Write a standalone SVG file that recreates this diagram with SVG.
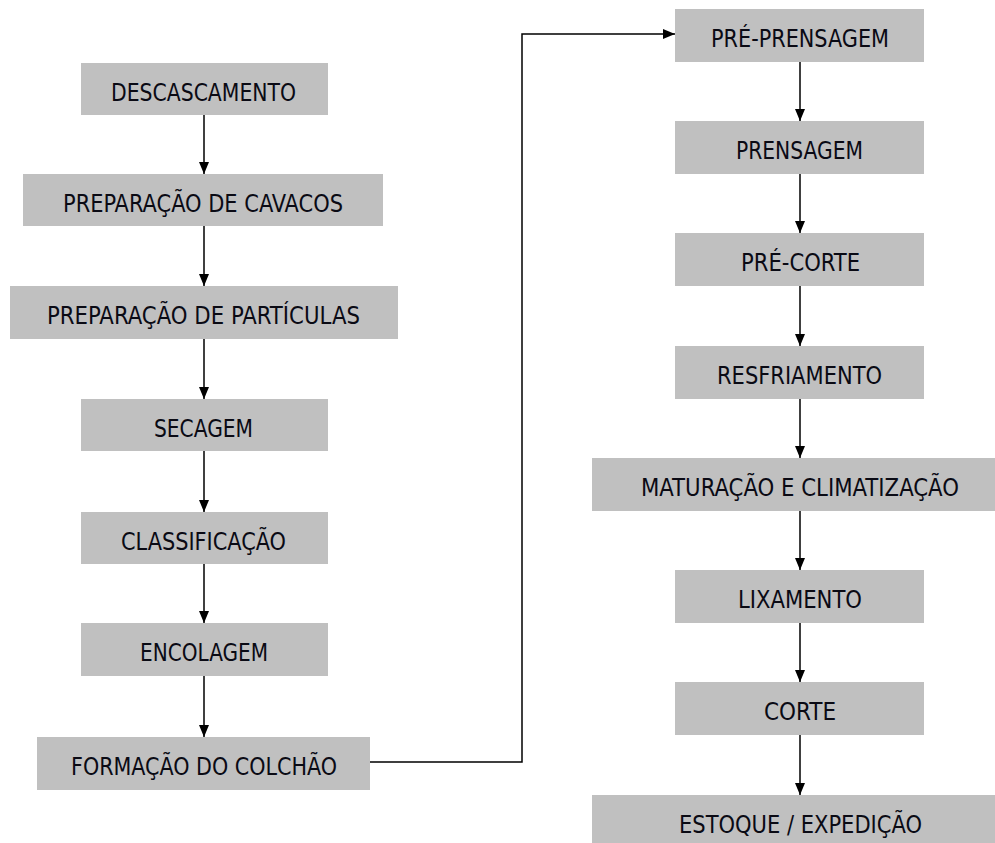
<svg xmlns="http://www.w3.org/2000/svg" width="995" height="843" viewBox="0 0 995 843">
<style>
.box{fill:#c0c0c0;}
.lbl{font-family:"DejaVu Sans Condensed","DejaVu Sans",sans-serif;font-size:24.5px;fill:#0a0a14;text-anchor:middle;}
.conn{fill:none;stroke:#000;stroke-width:1.5;}
</style>
<defs>
<marker id="arr" viewBox="0 0 12 10" refX="12" refY="5" markerWidth="12" markerHeight="10" markerUnits="userSpaceOnUse" orient="auto">
<path d="M0,0 L12,5 L0,10 z" fill="#000"/>
</marker>
</defs>
<rect width="995" height="843" fill="#fff"/>
<g id="n1"><rect class="box" x="81" y="63" width="247" height="52"/><text class="lbl" x="203.5" y="100.5" textLength="185" lengthAdjust="spacingAndGlyphs">DESCASCAMENTO</text></g>
<g id="n2"><rect class="box" x="23" y="174" width="360" height="52"/><text class="lbl" x="203" y="211.5" textLength="280" lengthAdjust="spacingAndGlyphs">PREPARAÇÃO DE CAVACOS</text></g>
<g id="n3"><rect class="box" x="10" y="286" width="388" height="53"/><text class="lbl" x="203.5" y="323.5" textLength="313" lengthAdjust="spacingAndGlyphs">PREPARAÇÃO DE PARTÍCULAS</text></g>
<g id="n4"><rect class="box" x="81" y="399" width="247" height="52"/><text class="lbl" x="203.5" y="436.5" textLength="99" lengthAdjust="spacingAndGlyphs">SECAGEM</text></g>
<g id="n5"><rect class="box" x="81" y="512" width="247" height="52"/><text class="lbl" x="203.5" y="549.5" textLength="165" lengthAdjust="spacingAndGlyphs">CLASSIFICAÇÃO</text></g>
<g id="n6"><rect class="box" x="81" y="623" width="247" height="53"/><text class="lbl" x="204" y="660.5" textLength="128" lengthAdjust="spacingAndGlyphs">ENCOLAGEM</text></g>
<g id="n7"><rect class="box" x="37" y="737" width="333" height="53"/><text class="lbl" x="204" y="774.5" textLength="266" lengthAdjust="spacingAndGlyphs">FORMAÇÃO DO COLCHÃO</text></g>
<g id="n8"><rect class="box" x="675" y="9" width="249" height="53"/><text class="lbl" x="800" y="46.5" textLength="178" lengthAdjust="spacingAndGlyphs">PRÉ-PRENSAGEM</text></g>
<g id="n9"><rect class="box" x="675" y="121" width="249" height="53"/><text class="lbl" x="799.5" y="158.5" textLength="127" lengthAdjust="spacingAndGlyphs">PRENSAGEM</text></g>
<g id="n10"><rect class="box" x="675" y="233" width="249" height="53"/><text class="lbl" x="800.5" y="270.5" textLength="119" lengthAdjust="spacingAndGlyphs">PRÉ-CORTE</text></g>
<g id="n11"><rect class="box" x="675" y="346" width="249" height="53"/><text class="lbl" x="799.5" y="383.5" textLength="165" lengthAdjust="spacingAndGlyphs">RESFRIAMENTO</text></g>
<g id="n12"><rect class="box" x="592" y="458" width="403" height="53"/><text class="lbl" x="800" y="495.5" textLength="318" lengthAdjust="spacingAndGlyphs">MATURAÇÃO E CLIMATIZAÇÃO</text></g>
<g id="n13"><rect class="box" x="675" y="570" width="249" height="53"/><text class="lbl" x="800" y="607.5" textLength="124" lengthAdjust="spacingAndGlyphs">LIXAMENTO</text></g>
<g id="n14"><rect class="box" x="675" y="682" width="249" height="53"/><text class="lbl" x="800" y="719.5" textLength="72" lengthAdjust="spacingAndGlyphs">CORTE</text></g>
<g id="n15"><rect class="box" x="592" y="795" width="403" height="53"/><text class="lbl" x="800.5" y="832.5" textLength="243" lengthAdjust="spacingAndGlyphs">ESTOQUE / EXPEDIÇÃO</text></g>
<g id="connectors">
<path class="conn" d="M204,115 V174" marker-end="url(#arr)"/>
<path class="conn" d="M204,226 V286" marker-end="url(#arr)"/>
<path class="conn" d="M204,339 V399" marker-end="url(#arr)"/>
<path class="conn" d="M204,451 V512" marker-end="url(#arr)"/>
<path class="conn" d="M204,564 V623" marker-end="url(#arr)"/>
<path class="conn" d="M204,676 V737" marker-end="url(#arr)"/>
<path class="conn" d="M370,762 H522 V34 H675" marker-end="url(#arr)"/>
<path class="conn" d="M800,62 V121" marker-end="url(#arr)"/>
<path class="conn" d="M800,174 V233" marker-end="url(#arr)"/>
<path class="conn" d="M800,286 V346" marker-end="url(#arr)"/>
<path class="conn" d="M800,399 V458" marker-end="url(#arr)"/>
<path class="conn" d="M800,511 V570" marker-end="url(#arr)"/>
<path class="conn" d="M800,623 V682" marker-end="url(#arr)"/>
<path class="conn" d="M800,735 V795" marker-end="url(#arr)"/>
</g>
</svg>
